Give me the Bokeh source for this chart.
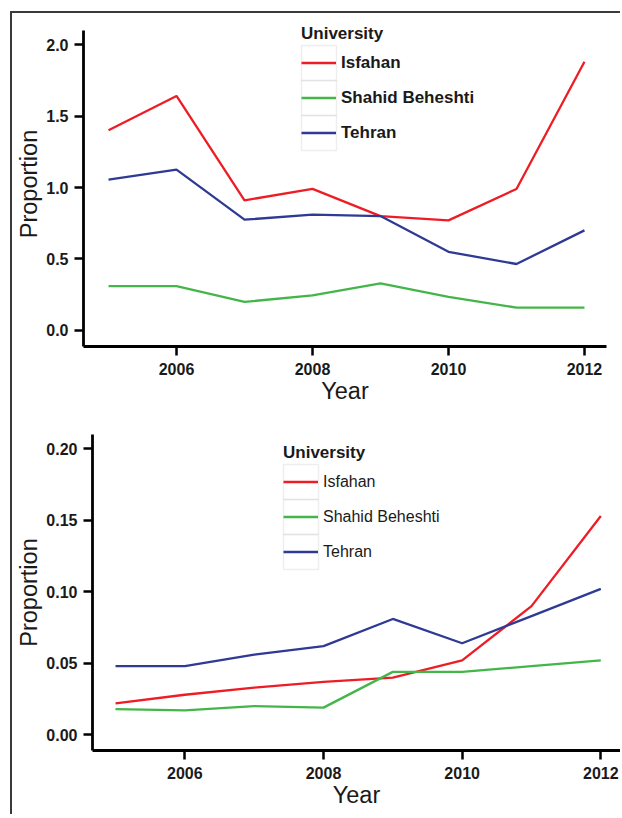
from bokeh.plotting import figure
from bokeh.models import Range1d, FixedTicker, NumeralTickFormatter, Legend, LegendItem, BoxAnnotation
from bokeh.embed import file_html
from bokeh.resources import INLINE

years = [2005, 2006, 2007, 2008, 2009, 2010, 2011, 2012]
universities = ["Isfahan", "Shahid Beheshti", "Tehran"]
colors = ["#ee1d25", "#44b649", "#2e3a94"]

top_isfahan = [1.40, 1.64, 0.91, 0.99, 0.80, 0.77, 0.99, 1.88]
top_shahid = [0.31, 0.31, 0.20, 0.245, 0.33, 0.235, 0.16, 0.16]
top_tehran = [1.055, 1.125, 0.775, 0.81, 0.80, 0.55, 0.465, 0.70]

bot_isfahan = [0.022, 0.028, 0.033, 0.037, 0.040, 0.052, 0.090, 0.153]
bot_shahid = [0.018, 0.017, 0.020, 0.019, 0.044, 0.044, 0.048, 0.052]
bot_tehran = [0.048, 0.048, 0.056, 0.062, 0.081, 0.064, 0.083, 0.102]

x_ticks = [2006, 2008, 2010, 2012]
top_y_ticks = [0.0, 0.5, 1.0, 1.5, 2.0]
bot_y_ticks = [0.00, 0.05, 0.10, 0.15, 0.20]

FONT = "Liberation Sans"
INK = "#1a1a1a"
FRAME_LINE = "2px solid #3a3a3a"


def make_panel(series, x_rng, y_rng, y_bounds, y_ticks, y_fmt, width, height, borders,
               leg_loc, label_style, label_size, styles):
    p = figure(width=width, height=height, output_backend="svg", toolbar_location=None,
               x_range=Range1d(*x_rng), y_range=Range1d(*y_rng),
               min_border_left=borders[0], min_border_right=borders[1],
               min_border_top=borders[2], min_border_bottom=borders[3],
               styles=styles)
    p.outline_line_color = None
    p.grid.visible = False
    p.background_fill_color = "white"
    p.border_fill_color = "white"

    items = []
    for name, vals, col in zip(universities, series, colors):
        r = p.line(years, vals, line_color=col, line_width=2.3)
        items.append(LegendItem(label=name, renderers=[r]))

    for ax in (p.xaxis[0], p.yaxis[0]):
        ax.axis_line_width = 2.8
        ax.axis_line_color = "black"
        ax.major_tick_line_width = 2.5
        ax.major_tick_line_color = "black"
        ax.major_tick_out = 9
        ax.major_tick_in = 0
        ax.minor_tick_line_color = None
        ax.major_label_text_font = FONT
        ax.major_label_text_font_size = "16px"
        ax.major_label_text_font_style = "bold"
        ax.major_label_text_color = INK
        ax.axis_label_text_font = FONT
        ax.axis_label_text_font_size = "23.5px"
        ax.axis_label_text_font_style = "normal"
        ax.axis_label_text_color = INK

    p.yaxis.bounds = y_bounds
    p.xaxis.ticker = FixedTicker(ticks=x_ticks)
    p.yaxis.ticker = FixedTicker(ticks=y_ticks)
    p.yaxis.formatter = NumeralTickFormatter(format=y_fmt)
    p.xaxis.axis_label = "Year"
    p.yaxis.axis_label = "Proportion"
    p.xaxis.major_label_standoff = 7
    p.yaxis.major_label_standoff = 6
    p.xaxis.axis_label_standoff = 0
    p.yaxis.axis_label_standoff = 1

    legend = Legend(items=items, title="University", location=leg_loc,
                    glyph_width=35, glyph_height=35, spacing=0, padding=0, margin=0,
                    label_standoff=5, border_line_color=None, background_fill_alpha=0,
                    label_text_font=FONT, label_text_font_size=label_size,
                    label_text_font_style=label_style, label_text_color=INK,
                    title_text_font=FONT, title_text_font_size="17px",
                    title_text_font_style="bold", title_text_color=INK,
                    title_standoff=1)
    p.add_layout(legend, "center")

    lx, ly = leg_loc
    for i in range(3):
        b = ly + (2 - i) * 35
        p.add_layout(BoxAnnotation(left=lx, right=lx + 35, bottom=b, top=b + 35,
                                   left_units="screen", right_units="screen",
                                   bottom_units="screen", top_units="screen",
                                   fill_alpha=0, line_color="#c8c8c8", line_width=1.5))
    return p


top = make_panel([top_isfahan, top_shahid, top_tehran],
                 (2004.632, 2012.324), (-0.112, 2.161), (-0.112, 2.098),
                 top_y_ticks, "0.0",
                 610, 395, (71, 16, 8, 62), (218, 196), "bold", "17px",
                 {"border-top": FRAME_LINE, "border-left": FRAME_LINE,
                  "margin-left": "10px", "margin-top": "11px"})
bot = make_panel([bot_isfahan, bot_shahid, bot_tehran],
                 (2004.668, 2012.284), (-0.011, 0.21), (-0.011, 0.21),
                 bot_y_ticks, "0.00",
                 610, 408, (80, 2, 28, 64), (191, 181), "normal", "16px",
                 {"border-left": FRAME_LINE, "margin-left": "10px"})

open("out.html", "w").write(file_html([top, bot], INLINE))
